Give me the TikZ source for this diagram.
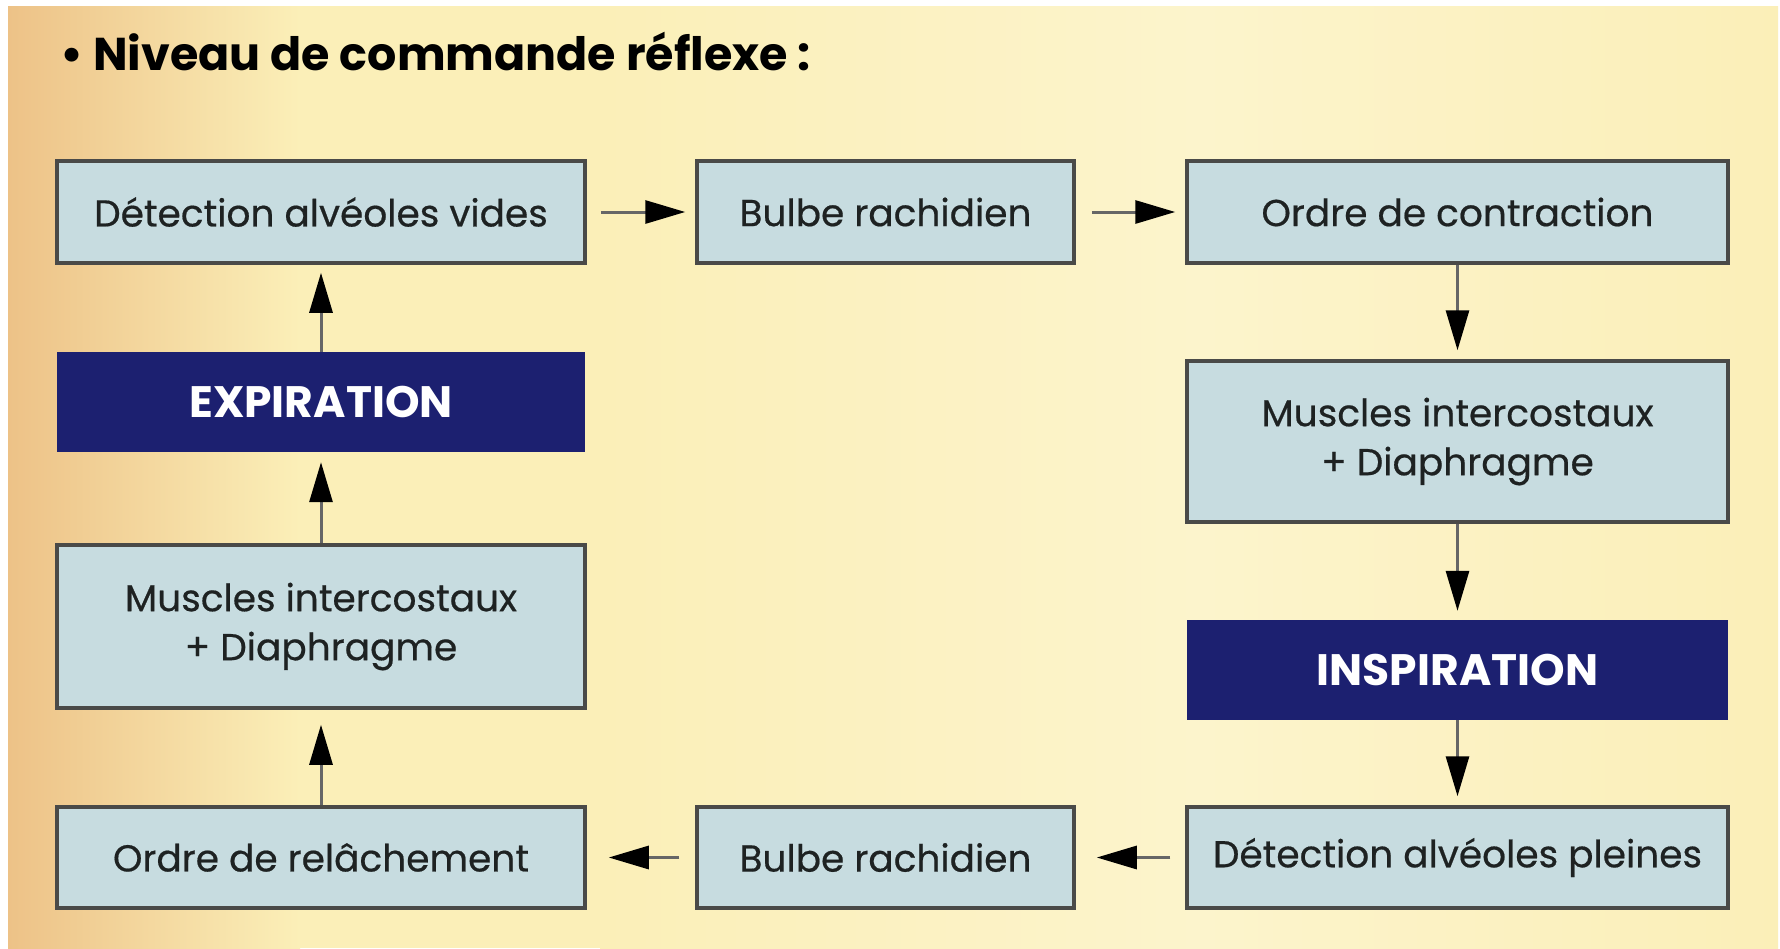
\documentclass[tikz,border=0pt]{standalone}
\usepackage{fontspec}
\setmainfont{Poppins}
\newfontfamily\boxfont[FakeBold=0.5]{Poppins}
\usetikzlibrary{arrows.meta}
\definecolor{boxfill}{HTML}{C7DCE0}
\definecolor{boxline}{HTML}{4A4A48}
\definecolor{navy}{HTML}{1C2070}
\definecolor{bgyellow}{HTML}{FBEFB8}
\definecolor{bglight}{HTML}{FCF4CC}
\definecolor{bgorange}{HTML}{EDC287}
\definecolor{txt}{HTML}{1E2222}
\begin{document}
\begin{tikzpicture}[x=1pt,y=-1pt,
  box/.style={draw=boxline, line width=3.5pt, fill=boxfill, text=txt, rectangle, inner sep=0pt, align=center, font=\boxfont\fontsize{37.5}{49}\selectfont},
  dark/.style={fill=navy, draw=none, text=white, rectangle, inner sep=0pt, font=\fontsize{44}{48}\selectfont\bfseries},
  arr/.style={draw=black!60, line width=3pt, -{Triangle[length=40pt,width=23pt,color=black]}}
]
\useasboundingbox (0,0) rectangle (1780,948);
\fill[white] (0,0) rectangle (1780,948);
\fill[bgyellow] (8,6) rectangle (1778,948);
\shade[left color=bgyellow, right color=bglight] (600,6) rectangle (1200,948);
\shade[left color=bglight, right color=bgyellow] (1200,6) rectangle (1778,948);
\shade[left color=bgorange, right color=bgyellow] (8,6) rectangle (300,948);

\node[anchor=base west, font=\fontsize{46}{50}\selectfont\bfseries, text=black] (title) at (57,70) {• Niveau de commande réflexe :};

% top row
\node[box, minimum width=528pt, minimum height=102pt] (dv) at (321,212) {Détection alvéoles vides};
\node[box, minimum width=377pt, minimum height=102pt] (b1) at (885.5,212) {Bulbe rachidien};
\node[box, minimum width=541pt, minimum height=102pt] (oc) at (1457.5,212) {Ordre de contraction};
% right column
\node[box, minimum width=541pt, minimum height=161pt] (mr) at (1457.5,441.5) {Muscles intercostaux\\+ Diaphragme};
\node[dark, minimum width=541pt, minimum height=100pt] (insp) at (1457.5,670) {INSPIRATION};
% bottom row
\node[box, minimum width=541pt, minimum height=101pt] (dp) at (1457.5,857.5) {Détection alvéoles pleines};
\node[box, minimum width=377pt, minimum height=101pt] (b2) at (885.5,857.5) {Bulbe rachidien};
\node[box, minimum width=528pt, minimum height=101pt] (or) at (321,857.5) {Ordre de relâchement};
% left column
\node[box, minimum width=528pt, minimum height=163pt] (ml) at (321,626.5) {Muscles intercostaux\\+ Diaphragme};
\node[dark, minimum width=528pt, minimum height=100pt] (exp) at (321,402) {EXPIRATION};

% arrows
\draw[arr, shorten <=14pt, shorten >=10pt] (dv) -- (b1);
\draw[arr, shorten <=16pt, shorten >=10pt] (b1) -- (oc);
\draw[arr, shorten >=9pt] (oc) -- (mr);
\draw[arr, shorten >=9pt] (mr) -- (insp);
\draw[arr, shorten >=9pt] (insp) -- (dp);
\draw[arr, shorten <=15pt, shorten >=21pt] (dp) -- (b2);
\draw[arr, shorten <=16pt, shorten >=22pt] (b2) -- (or);
\draw[arr, shorten >=15pt] (or) -- (ml);
\draw[arr, shorten >=10pt] (ml) -- (exp);
\draw[arr, shorten >=8pt] (exp) -- (dv);
\end{tikzpicture}
\end{document}
